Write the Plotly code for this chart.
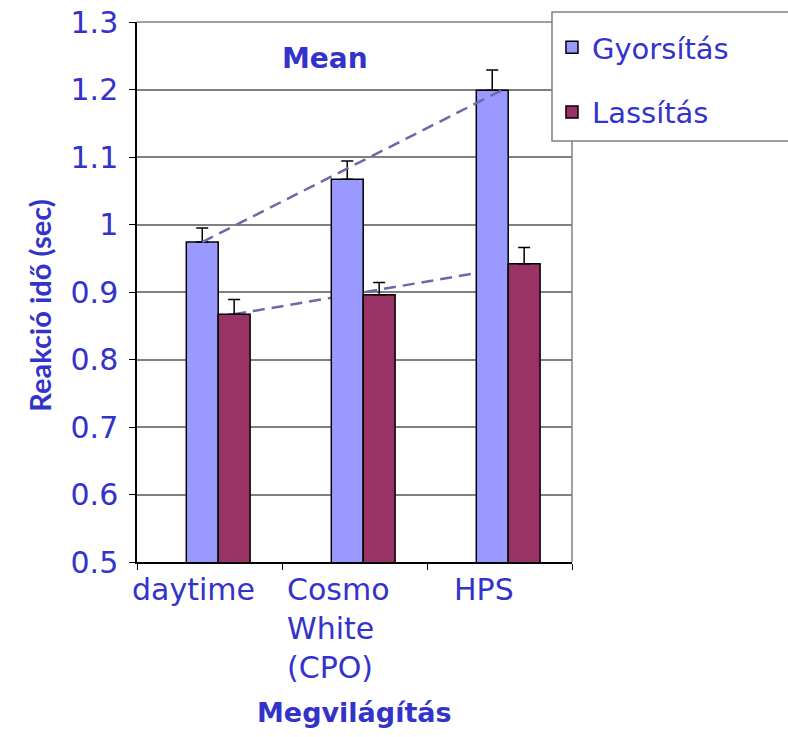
import plotly.graph_objects as go

categories = ["daytime", "Cosmo<br>White<br>(CPO)", "HPS"]
series_names = ["Gyorsítás", "Lassítás"]
gyorsitas = [0.974, 1.067, 1.199]
gyorsitas_err = [0.021, 0.027, 0.030]
lassitas = [0.867, 0.896, 0.942]
lassitas_err = [0.022, 0.018, 0.024]
y_ticks = [0.5, 0.6, 0.7, 0.8, 0.9, 1.0, 1.1, 1.2, 1.3]
y_ticktext = ["0.5", "0.6", "0.7", "0.8", "0.9", "1", "1.1", "1.2", "1.3"]

TXT = "#3333cc"
FONT = "DejaVu Sans"
pos = list(range(len(categories)))
W = 0.22
OFF_B = -0.16
OFF_R = 0.06

fig = go.Figure()
fig.add_trace(go.Bar(
    x=pos, y=gyorsitas, name=series_names[0], width=W, offset=OFF_B,
    marker=dict(color="#9999ff", line=dict(color="black", width=1.5)),
    error_y=dict(type="data", array=gyorsitas_err, symmetric=False,
                 arrayminus=[0] * 3, color="black", thickness=1.5, width=6),
    legendgroup="g1",
))
fig.add_trace(go.Bar(
    x=pos, y=lassitas, name=series_names[1], width=W, offset=OFF_R,
    marker=dict(color="#993366", line=dict(color="black", width=1.5)),
    error_y=dict(type="data", array=lassitas_err, symmetric=False,
                 arrayminus=[0] * 3, color="black", thickness=1.5, width=6),
    legendgroup="g2",
))

dash_style = dict(color="#6a6aaa", width=2.5, dash="12px,7px")
# blue trend line (drawn over bars)
fig.add_shape(type="line", xref="x", yref="y", layer="above",
              x0=pos[0] + OFF_B + W / 2, y0=gyorsitas[0],
              x1=pos[-1] + OFF_B + W * 0.8, y1=gyorsitas[-1],
              line=dash_style)
# red trend line (behind bars)
fig.add_shape(type="line", xref="x", yref="y", layer="between",
              x0=pos[0] + OFF_R + W / 2, y0=lassitas[0],
              x1=pos[-1] + OFF_R + W * 0.75, y1=lassitas[-1],
              line=dash_style)
# right and top border of plot area
fig.add_shape(type="line", xref="paper", yref="paper", x0=1, x1=1, y0=0, y1=1,
              line=dict(color="#808080", width=1.5), layer="between")
fig.add_shape(type="line", xref="paper", yref="paper", x0=0, x1=1, y0=1, y1=1,
              line=dict(color="#808080", width=1.5), layer="between")
# legend frame (extends beyond right edge)
fig.add_shape(type="rect", xref="paper", yref="paper",
              x0=0.954, x1=1.51, y0=0.7796, y1=1.0185,
              fillcolor="white", line=dict(color="#808080", width=1.5),
              layer="above")

# category labels
for p, c in zip(pos, categories):
    fig.add_annotation(x=p - 0.11, y=0.5, xref="x", yref="y", text=c,
                       showarrow=False, xanchor="center", yanchor="top",
                       yshift=-8, align="left",
                       font=dict(family=FONT, size=30, color=TXT))

fig.add_annotation(x=0.432, y=1.0, xref="paper", yref="paper", text="<b>Mean</b>",
                   showarrow=False, xanchor="center", yanchor="middle", yshift=-36,
                   font=dict(family=FONT, size=28, color=TXT))
fig.add_annotation(x=-0.226, y=0.474, xref="paper", yref="paper",
                   text="<b>Reakció idő (sec)</b>", textangle=-90,
                   showarrow=False, xanchor="center", yanchor="middle",
                   font=dict(family="Lato", size=29, color=TXT))
fig.add_annotation(x=0.5, y=0, xref="paper", yref="paper",
                   text="<b>Megvilágítás</b>", showarrow=False,
                   xanchor="center", yanchor="middle", yshift=-150,
                   font=dict(family=FONT, size=27, color=TXT))

fig.update_layout(
    width=788, height=737,
    margin=dict(l=137, r=216, t=22, b=175, autoexpand=False),
    paper_bgcolor="white", plot_bgcolor="white",
    font=dict(family=FONT, size=28, color=TXT),
    showlegend=True,
    legend=dict(x=0.954, y=1.0, xanchor="left", yanchor="top",
                bgcolor="rgba(0,0,0,0)", borderwidth=0,
                font=dict(family=FONT, size=29, color=TXT),
                traceorder="grouped", tracegroupgap=24),
    xaxis=dict(range=[-0.5, 2.5], showgrid=False, zeroline=False,
               showline=True, linecolor="black", linewidth=1.5,
               tickvals=[-0.5, 0.5, 1.5, 2.5], ticktext=["", "", "", ""],
               ticks="outside", ticklen=6, tickcolor="black", tickwidth=1,
               automargin=False),
    yaxis=dict(range=[0.5, 1.3], tickvals=y_ticks, ticktext=y_ticktext,
               showgrid=True, gridcolor="#808080", gridwidth=1.5,
               zeroline=False, showline=True, linecolor="black", linewidth=1.5,
               ticks="outside", ticklen=6, tickcolor="black", tickwidth=1,
               ticklabelstandoff=5, ticklabeloverflow="allow", automargin=False,
               tickfont=dict(family=FONT, size=30, color=TXT)),
)

fig.write_html("out.html", config={"displayModeBar": False},
               post_script="document.body.style.margin='0';")
